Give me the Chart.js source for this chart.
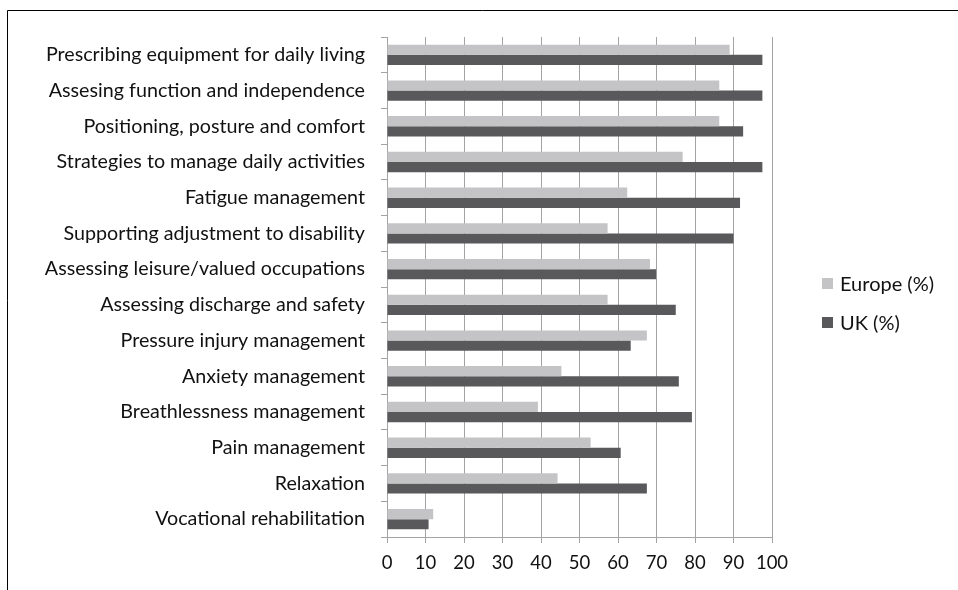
<!DOCTYPE html>
<html>
<head>
<meta charset="utf-8">
<script src="https://cdn.jsdelivr.net/npm/chart.js@4"></script>
<style>
  html, body { margin: 0; padding: 0; background: #fff; }
  #wrap { width: 958px; height: 590px; }
</style>
</head>
<body>
<div id="wrap"><canvas id="myChart" width="958" height="590"></canvas></div>
<script>
const categories = [
  "Prescribing equipment for daily living",
  "Assesing function and independence",
  "Positioning, posture and comfort",
  "Strategies to manage daily activities",
  "Fatigue management",
  "Supporting adjustment to disability",
  "Assessing leisure/valued occupations",
  "Assessing discharge and safety",
  "Pressure injury management",
  "Anxiety management",
  "Breathlessness management",
  "Pain management",
  "Relaxation",
  "Vocational rehabilitation"
];
const europeData = [89, 86.3, 86.3, 76.8, 62.4, 57.3, 68.3, 57.3, 67.5, 45.3, 39.2, 52.9, 44.3, 12];
const ukData = [97.5, 97.5, 92.5, 97.5, 91.7, 90, 69.9, 75, 63.3, 75.8, 79.2, 60.7, 67.5, 10.8];
const xTicks = [0, 10, 20, 30, 40, 50, 60, 70, 80, 90, 100];

const FONT = "Lato, 'Open Sans', sans-serif";

// outer frame and legend drawn by hand, like the Excel original
const framePlugin = {
  id: "frame",
  afterDraw(chart) {
    const ctx = chart.ctx;
    ctx.save();
    ctx.strokeStyle = "#000";
    ctx.lineWidth = 1;
    ctx.beginPath();
    ctx.moveTo(7.5, 590);
    ctx.lineTo(7.5, 10.5);
    ctx.lineTo(958, 10.5);
    ctx.stroke();

    const items = chart.data.datasets;
    const ys = [283.5, 322.5];
    ctx.font = "20px " + FONT;
    ctx.textBaseline = "middle";
    ctx.textAlign = "left";
    items.forEach((ds, i) => {
      ctx.fillStyle = ds.backgroundColor;
      ctx.fillRect(822, ys[i] - 5.5, 11, 11);
      ctx.fillStyle = "#111";
      ctx.fillText(ds.label, 840, ys[i] + 1);
    });
    ctx.restore();
  }
};

const ctx = document.getElementById("myChart").getContext("2d");
const myChart = new Chart(ctx, {
  type: "bar",
  data: {
    labels: categories,
    datasets: [
      {
        label: "Europe (%)",
        data: europeData,
        backgroundColor: "#c4c4c6",
      },
      {
        label: "UK (%)",
        data: ukData,
        backgroundColor: "#59595b",
      },
    ],
  },
  options: {
    indexAxis: "y",
    responsive: false,
    animation: false,
    layout: { padding: { top: 37, right: 186, bottom: 0, left: 0 } },
    datasets: {
      bar: { categoryPercentage: 0.57, barPercentage: 1.0, borderWidth: 0 }
    },
    plugins: {
      legend: { display: false },
      tooltip: { enabled: false },
    },
    scales: {
      x: {
        min: 0,
        max: 100,
        afterBuildTicks(scale) {
          scale.ticks = xTicks.map(v => ({ value: v }));
        },
        afterFit(scale) { scale.height = 53; },
        grid: {
          color: "#a3a3a3",
          lineWidth: 1,
          tickLength: 6,
          drawTicks: true,
        },
        border: { display: true, color: "#a3a3a3", width: 1 },
        ticks: {
          color: "#111",
          font: { family: FONT, size: 18.5 },
          padding: 9,
          maxRotation: 0,
        },
      },
      y: {
        afterFit(scale) { scale.width = 387; },
        grid: {
          drawOnChartArea: false,
          drawTicks: true,
          tickLength: 6,
          color: "#a3a3a3",
          offset: true,
        },
        border: { display: true, color: "#a3a3a3", width: 1 },
        ticks: {
          color: "#111",
          font: { family: FONT, size: 19.7 },
          padding: 16,
          autoSkip: false,
        },
      },
    },
  },
  plugins: [framePlugin],
});
</script>
</body>
</html>
